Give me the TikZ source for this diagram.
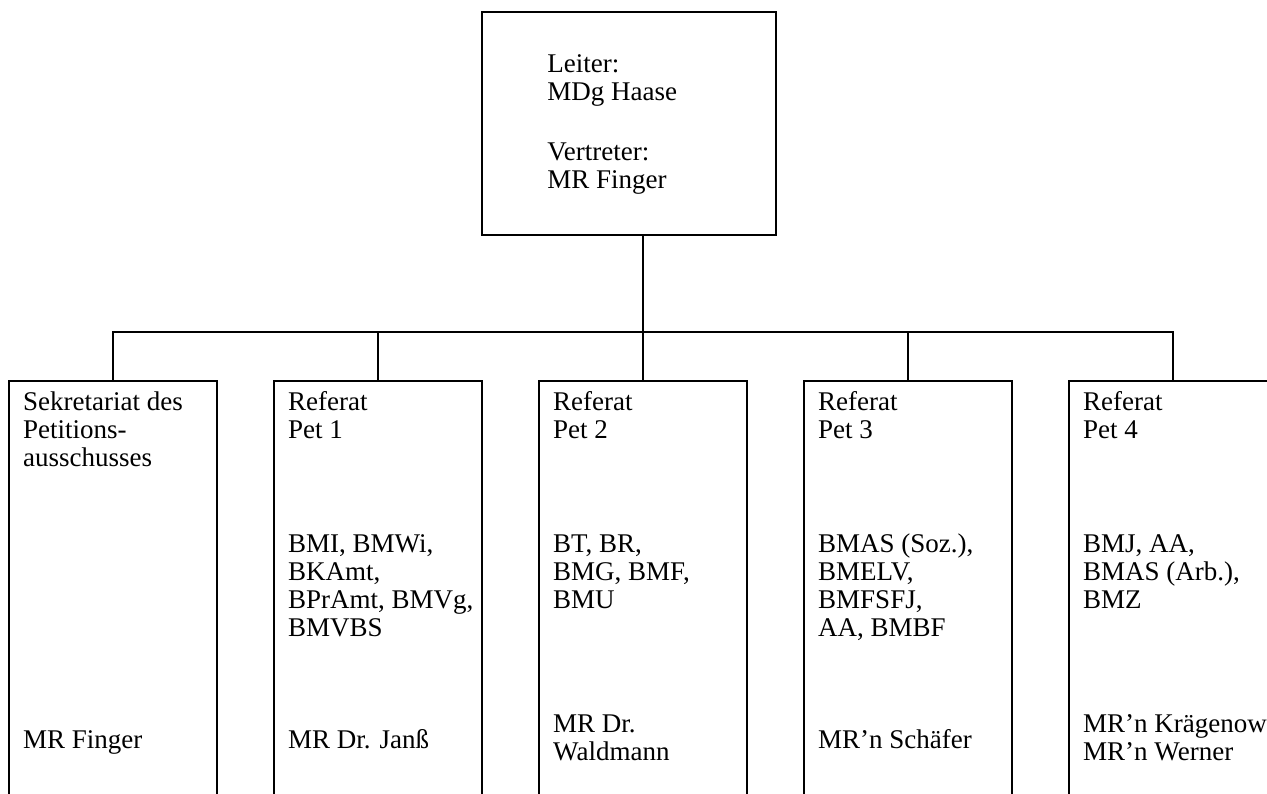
\documentclass[tikz,border=0pt]{standalone}
\usepackage{fontspec}
\setmainfont{Liberation Serif}
\usetikzlibrary{positioning}
\tikzset{
  unit/.style={draw, line width=1.2pt, minimum width=104pt, minimum height=220pt, anchor=north, inner sep=0pt},
  lead/.style={draw, line width=1.2pt, minimum width=147pt, minimum height=111.5pt, inner sep=0pt},
  lbl/.style={align=left, inner sep=0pt, anchor=base west, font=\fontsize{13.5pt}{14pt}\selectfont},
  link/.style={line width=1.2pt}
}
\begin{document}
\begin{tikzpicture}[x=0.5pt, y=-0.5pt]
\useasboundingbox (0,0) rectangle (1267,793);
\clip (0,0) rectangle (1267,793);

% Leitung
\node[lead] (chief) at (629,123.5) {};
\node[lbl] (chieftxt) at (547,188) {Leiter:\\MDg Haase\\[16pt]Vertreter:\\MR Finger};

% Referate
\foreach \i in {1,...,5}
  \node[unit] (unit\i) at ({113+265*(\i-1)},380) {};

\node[lbl] (head1) at ([shift={(15,86)}]unit1.north west) {Sekretariat des\\Petitions-\\ausschusses};
\node[lbl] (head2) at ([shift={(15,58)}]unit2.north west) {Referat\\Pet 1};
\node[lbl] (head3) at ([shift={(15,58)}]unit3.north west) {Referat\\Pet 2};
\node[lbl] (head4) at ([shift={(15,58)}]unit4.north west) {Referat\\Pet 3};
\node[lbl] (head5) at ([shift={(15,58)}]unit5.north west) {Referat\\Pet 4};

\node[lbl] (task2) at ([shift={(15,256)}]unit2.north west) {BMI, BMWi,\\BKAmt,\\BPrAmt, BMVg,\\BMVBS};
\node[lbl] (task3) at ([shift={(15,228)}]unit3.north west) {BT, BR,\\BMG, BMF,\\BMU};
\node[lbl] (task4) at ([shift={(15,256)}]unit4.north west) {BMAS (Soz.),\\BMELV,\\BMFSFJ,\\AA, BMBF};
\node[lbl] (task5) at ([shift={(15,228)}]unit5.north west) {BMJ, AA,\\BMAS (Arb.),\\BMZ};

\node[lbl] (head1b) at ([shift={(15,368)}]unit1.north west) {MR Finger};
\node[lbl] (head2b) at ([shift={(15,368)}]unit2.north west) {MR Dr. Janß};
\node[lbl] (head3b) at ([shift={(15,380)}]unit3.north west) {MR Dr.\\Waldmann};
\node[lbl] (head4b) at ([shift={(15,368)}]unit4.north west) {MR’n Schäfer};
\node[lbl] (head5b) at ([shift={(15,380)}]unit5.north west) {MR’n Krägenow\\MR’n Werner};

% Linien
\coordinate (bus) at (643,332);
\draw[link] (unit1.north) |- (bus) -| (unit5.north);
\foreach \i in {2,3,4}
  \draw[link] (unit\i.north) -- (unit\i.north |- bus);
\draw[link] (chief.south -| bus) -- (bus);
\end{tikzpicture}
\end{document}
